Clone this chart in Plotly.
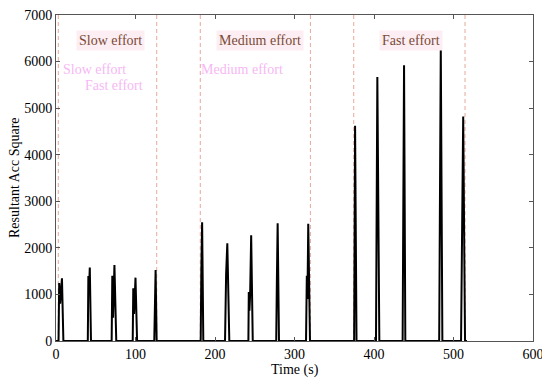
import plotly.graph_objects as go

# Time (s) and resultant acceleration square samples (polyline)
time_s = [0, 3.2, 4.0, 5.2, 6.5, 7.5, 9.3,
          40.0, 40.7, 41.6, 42.5, 44.0,
          70.0, 70.8, 71.8, 73.5, 75.8,
          96.5, 97.2, 98.2, 100.0, 102.0,
          123.6, 124.5, 125.3, 126.6,
          182.0, 182.8, 183.8, 185.3,
          212.6, 214.0, 215.5, 218.0,
          242.0, 242.5, 243.3, 244.2, 245.5, 247.5,
          277.0, 277.8, 278.8, 280.5,
          314.5, 315.5, 316.3, 317.3, 319.5,
          375.0, 376.2, 378.0,
          402.5, 404.2, 406.7,
          436.0, 437.8, 439.4,
          482.0, 484.0, 486.0,
          509.5, 512.2, 514.5, 517.0]
acc_sq = [0, 0, 1245, 800, 1120, 1345, 0,
          0, 1395, 1150, 1580, 0,
          0, 1400, 500, 1630, 0,
          0, 1130, 580, 1360, 0,
          0, 1000, 1525, 0,
          0, 1500, 2550, 0,
          0, 1450, 2100, 0,
          0, 1050, 650, 1000, 2270, 0,
          0, 1250, 2530, 0,
          0, 1400, 900, 2520, 0,
          0, 4620, 0,
          0, 5670, 0,
          0, 5920, 0,
          0, 6280, 0,
          0, 4820, 0, 0]

# Segment boundaries (s)
boundaries = [2.9, 126.7, 181.5, 320.0, 374.5, 514.5]

# Segment labels
seg_labels = ["Slow effort", "Medium effort", "Fast effort"]
seg_label_x = [68, 257, 447]
seg_label_y = [6460, 6460, 6460]

# Faint ghost labels
ghost_labels = ["Slow effort", "Fast effort", "Medium effort"]
ghost_x = [48, 73, 234]
ghost_y = [5840, 5490, 5840]

x_ticks = [0, 100, 200, 300, 400, 500, 600]
y_ticks = [0, 1000, 2000, 3000, 4000, 5000, 6000, 7000]

font_family = "Liberation Serif"

fig = go.Figure()
fig.add_trace(go.Scatter(x=time_s, y=acc_sq, mode="lines",
                         line=dict(color="black", width=2), showlegend=False,
                         hoverinfo="skip"))

for b in boundaries:
    fig.add_shape(type="line", x0=b, x1=b, y0=0, y1=7000, xref="x", yref="y",
                  line=dict(color="#e8a89c", width=1, dash="4px,3px"), layer="below")

for txt, xx, yy in zip(seg_labels, seg_label_x, seg_label_y):
    fig.add_annotation(x=xx, y=yy, text=txt, showarrow=False,
                       font=dict(family=font_family, size=14, color="#7a4a35"),
                       bgcolor="#fdeef4", borderpad=2)

for txt, xx, yy in zip(ghost_labels, ghost_x, ghost_y):
    fig.add_annotation(x=xx, y=yy, text=txt, showarrow=False,
                       font=dict(family=font_family, size=14, color="#f6b8f4"))

# Axis titles as annotations for precise placement
fig.add_annotation(x=0.5, y=0.0, xref="paper", yref="paper", yshift=-29,
                   xanchor="center", yanchor="middle",
                   text="Time (s)", showarrow=False,
                   font=dict(family=font_family, size=14, color="black"))
fig.add_annotation(x=0.0, y=0.5, xref="paper", yref="paper", xshift=-42,
                   xanchor="center", yanchor="middle",
                   text="Resultant Acc Square", showarrow=False, textangle=-90,
                   font=dict(family=font_family, size=14, color="black"))

axis_common = dict(showgrid=False, zeroline=False, showline=True, linecolor="#555",
                   linewidth=1, mirror="ticks", ticks="inside", ticklen=4,
                   tickcolor="#555", automargin=False, ticklabeloverflow="allow",
                   tickfont=dict(family=font_family, size=14, color="black"))

fig.update_xaxes(range=[0, 600], tickvals=x_ticks, **axis_common)
fig.update_yaxes(range=[0, 7000], tickvals=y_ticks, **axis_common)

fig.update_layout(width=550, height=381, plot_bgcolor="white", paper_bgcolor="white",
                  margin=dict(l=48, r=25, t=7, b=48))

fig.write_html("out.html")
